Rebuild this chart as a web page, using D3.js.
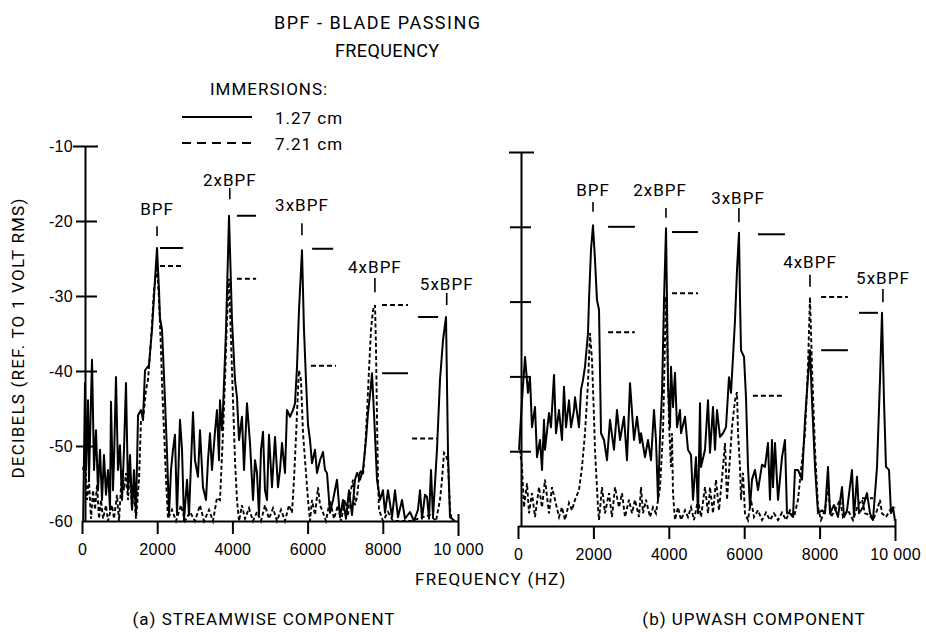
<!DOCTYPE html>
<html>
<head>
<meta charset="utf-8">
<script src="https://cdn.jsdelivr.net/npm/d3@7"></script>
<style>
    body { margin: 0; background: #fff; }
    svg { display: block; font-family: Roboto, "Noto Sans", sans-serif; fill: #000; }
    .axis path, .axis line { stroke: #000; stroke-width: 2; }
    .axis text { font-family: inherit; font-size: 16px; fill: #000; letter-spacing: 0.3px; }
    .solid { fill: none; stroke: #000; stroke-width: 2; stroke-linejoin: round; }
    .dashed { fill: none; stroke: #000; stroke-width: 1.9; stroke-dasharray: 4 2.5; }
    .mark { stroke: #000; stroke-width: 2; }
    .mark.dashed { stroke-dasharray: 5 3; }
    .legend.dashed { stroke-dasharray: 9 6; }
    .label { font-size: 17px; letter-spacing: 1px; }
</style>
</head>
<body>
<svg id="chart" width="926" height="632"></svg>
<script>

const xTicks = [0, 2000, 4000, 6000, 8000, 10000];
const xTickLabels = ["0", "2000", "4000", "6000", "8000", "10 000"];
const yTicks = [-10, -20, -30, -40, -50, -60];
const yTickLabels = ["-10", "-20", "-30", "-40", "-50", "-60"];

// spectra, [Hz, dB], floor at -60
const streamwiseSolid = [
    [30,-60],[80,-41.6],[106,-53.2],[160,-43.9],[186,-54.5],[266,-38.5],[320,-53.2],[372,-47.9],[425,-55.9],[479,-50.5],
    [532,-57.2],[585,-51.2],[638,-56.5],[691,-53.2],[745,-58.5],[771,-44.1],[824,-55.9],[851,-51.9],[904,-40.8],[957,-53.2],
    [1010,-49.9],[1064,-57.2],[1117,-50.5],[1170,-41.6],[1223,-55.9],[1277,-51.2],[1330,-58.5],[1383,-53.2],[1436,-59.1],[1490,-45.9],
    [1569,-45.2],[1622,-46.5],[1676,-39.9],[1782,-39.2],[1862,-34.5],[1941,-27.9],[1995,-23.6],[2048,-29.2],[2074,-32.9],[2128,-34.5],
    [2154,-37.5],[2207,-43.9],[2261,-50.9],[2314,-59.2],[2367,-53.2],[2420,-50.5],[2473,-48.5],[2527,-59.2],[2606,-46.5],[2660,-50.5],
    [2713,-59.9],[2793,-54.5],[2846,-59.2],[2952,-45.5],[3005,-51.9],[3085,-54.1],[3138,-47.9],[3218,-55.5],[3298,-57.2],[3351,-51.9],
    [3404,-48.3],[3457,-53.2],[3537,-48.1],[3590,-45.2],[3644,-51.9],[3670,-43.9],[3723,-47.9],[3750,-45.2],[3830,-34.5],[3910,-19.3],
    [3989,-33.2],[4069,-41.2],[4122,-43.5],[4176,-49.2],[4255,-46.1],[4309,-53.2],[4388,-44.3],[4468,-49.6],[4548,-57.2],[4601,-51.9],
    [4654,-53.6],[4707,-59.2],[4761,-50.5],[4814,-48.1],[4867,-55.9],[4920,-57.2],[4973,-48.5],[5053,-55.5],[5133,-48.8],[5213,-55.5],
    [5266,-53.2],[5319,-49.6],[5399,-53.6],[5452,-45.2],[5532,-46.1],[5612,-45.2],[5665,-44.3],[5718,-39.5],[5771,-31.9],[5851,-23.9],
    [5904,-34.5],[5957,-41.2],[6011,-47.2],[6064,-49.2],[6117,-52.3],[6197,-50.5],[6250,-53.6],[6330,-51.9],[6410,-50.8],[6463,-53.2],
    [6516,-53.6],[6596,-58.9],[6676,-57.2],[6782,-54.5],[6862,-59.5],[6941,-57.2],[7021,-59.7],[7101,-55.9],[7181,-59.2],[7261,-54.5],
    [7314,-53.6],[7394,-54.5],[7473,-53.2],[7553,-49.2],[7606,-45.6],[7660,-43.2],[7713,-40.3],[7766,-45.6],[7846,-54.5],[7926,-57.2],
    [8005,-55.9],[8059,-58.9],[8138,-55.9],[8245,-59.5],[8324,-55.9],[8404,-59.5],[8511,-57.2],[8590,-59.7],[8723,-58.8],[8830,-60],
    [8936,-58.5],[8989,-55.9],[9043,-59.7],[9122,-56.5],[9176,-56.8],[9229,-59.7],[9282,-53.2],[9335,-59.5],[9441,-50.5],[9521,-41.2],
    [9601,-35.9],[9681,-32.8],[9734,-50.9],[9787,-59.5],[9920,-60]
];

const streamwiseDashed = [
    [30,-53.2],[80,-51.2],[133,-57.2],[186,-54.5],[239,-59.7],[293,-55.9],[346,-58.5],[399,-55.2],[452,-59.7],[505,-57.2],
    [559,-59.7],[638,-57.9],[691,-60],[798,-57.9],[851,-59.7],[931,-56.5],[984,-60],[1064,-53.2],[1117,-55.9],[1170,-53.6],
    [1223,-57.2],[1277,-53.2],[1330,-58.5],[1383,-55.9],[1436,-59.7],[1516,-54.5],[1569,-46.5],[1622,-46.5],[1702,-42.5],[1755,-41.2],
    [1835,-35.9],[1915,-29.2],[1995,-26],[2048,-30.5],[2101,-37.2],[2128,-41.6],[2181,-47.9],[2234,-54.5],[2287,-59.7],[2394,-58.5],
    [2500,-60],[2633,-57.9],[2740,-60],[2872,-58.8],[3005,-60],[3138,-57.9],[3245,-60],[3378,-58.5],[3484,-60],[3590,-56.9],
    [3670,-57.2],[3750,-48.3],[3803,-41.2],[3856,-33.2],[3910,-27.7],[3963,-35.9],[4016,-43.9],[4069,-51.9],[4122,-57.2],[4176,-60],
    [4255,-57.9],[4335,-59.7],[4441,-58.3],[4548,-60],[4654,-58.8],[4761,-60],[4867,-57.9],[4973,-59.7],[5080,-58.3],[5186,-60],
    [5293,-58.5],[5399,-60],[5505,-57.9],[5585,-58.9],[5638,-54.5],[5691,-48.8],[5745,-42.5],[5771,-39.9],[5824,-41.2],[5878,-48.3],
    [5957,-53.6],[6011,-57.2],[6064,-60],[6117,-57.2],[6197,-59.2],[6277,-55.5],[6330,-57.9],[6383,-58.5],[6489,-60],[6596,-57.2],
    [6702,-59.7],[6809,-57.9],[6888,-60],[6995,-57.2],[7074,-59.2],[7128,-56.5],[7207,-54.5],[7261,-57.9],[7314,-56.8],[7394,-53.2],
    [7473,-53.9],[7527,-50.5],[7580,-45.6],[7633,-39.9],[7686,-34.5],[7739,-31.9],[7793,-31.2],[7819,-36.8],[7846,-46.5],[7872,-54.5],
    [7899,-58.5],[8005,-60],[8138,-58.8],[8271,-60],[8750,-60],[9255,-59.2],[9415,-60],[9521,-57.2],[9574,-54.5],[9628,-50.9],
    [9681,-51.2],[9734,-52.3],[9787,-58.5],[9840,-60]
];

const upwashSolid = [
    [27,-49.8],[106,-43.2],[186,-37.4],[265,-42.2],[318,-40.1],[371,-46.8],[451,-44.1],[504,-50.8],[584,-48.5],[637,-52.5],
    [690,-45.8],[716,-49.8],[822,-44.9],[875,-46.8],[955,-39.8],[1008,-47.6],[1088,-44.5],[1167,-48.5],[1220,-41.4],[1273,-46.8],
    [1353,-43.2],[1406,-46.8],[1485,-44.5],[1512,-42.8],[1618,-46.8],[1671,-41.8],[1724,-40.5],[1777,-38.7],[1857,-34.2],[1883,-29.8],
    [1936,-23.1],[1989,-19.8],[2042,-24.4],[2095,-29.8],[2149,-31.1],[2202,-47.6],[2281,-48.5],[2361,-51.2],[2440,-45.8],[2546,-49.8],
    [2626,-44.5],[2706,-48.5],[2812,-45.4],[2891,-51.2],[2971,-40.9],[3077,-48.5],[3156,-45.4],[3236,-48.9],[3263,-47.6],[3369,-50.8],
    [3448,-48.5],[3528,-51.2],[3607,-44.5],[3660,-48.5],[3714,-56.5],[3767,-48.1],[3820,-42.2],[3873,-29.8],[3926,-20.2],[3952,-29.8],
    [3979,-40.9],[4032,-46.8],[4058,-38.7],[4111,-44.1],[4164,-39.5],[4218,-46.8],[4297,-44.5],[4324,-47.6],[4430,-45.4],[4509,-49.8],
    [4589,-50.5],[4642,-56.5],[4721,-50.8],[4775,-58.3],[4828,-43.6],[4854,-52.1],[4960,-49.8],[5040,-43.2],[5093,-50.2],[5172,-44.1],
    [5225,-49.8],[5279,-44.5],[5358,-48.1],[5438,-47.6],[5517,-46.8],[5597,-40.1],[5650,-42.2],[5703,-37.4],[5756,-32.5],[5809,-25.8],
    [5862,-20.8],[5889,-29.8],[5915,-36.5],[5995,-37.4],[6048,-42.8],[6101,-52.1],[6154,-57.5],[6207,-53.8],[6286,-52.5],[6366,-55.2],
    [6472,-51.8],[6552,-52.1],[6631,-48.9],[6684,-56.5],[6737,-48.5],[6764,-54.8],[6817,-48.9],[6897,-56.5],[7003,-50.8],[7082,-48.5],
    [7135,-58.3],[7215,-58.3],[7294,-58.8],[7347,-52.5],[7427,-52.5],[7533,-53.8],[7613,-45.8],[7692,-40.1],[7745,-36.5],[7798,-43.2],
    [7878,-52.1],[7958,-58.3],[8064,-57.9],[8143,-58.3],[8223,-52.1],[8276,-58.3],[8382,-57.2],[8488,-58.8],[8594,-54.8],[8647,-58.8],
    [8727,-57.9],[8859,-52.5],[8912,-58.8],[8992,-53.4],[9045,-58.3],[9151,-57.5],[9257,-55.6],[9337,-58.3],[9416,-59.2],[9523,-52.1],
    [9602,-40.5],[9655,-31.5],[9708,-43.2],[9761,-52.1],[9841,-52.5],[9894,-58.3],[9947,-57.5],[10000,-59.3]
];

const upwashDashed = [
    [53,-49.8],[106,-52.1],[159,-57.5],[239,-54.3],[292,-58.3],[371,-55.6],[451,-58.8],[557,-54.8],[637,-57.5],[716,-53.8],
    [822,-58.3],[902,-54.8],[981,-56.5],[1088,-58.8],[1167,-57.5],[1247,-59.2],[1353,-56.9],[1432,-57.9],[1512,-56.5],[1618,-55.2],
    [1698,-52.1],[1777,-47.6],[1857,-40.9],[1910,-34.2],[1963,-37.8],[2016,-45.4],[2042,-49.8],[2122,-57.5],[2149,-59.2],[2228,-54.8],
    [2308,-58.3],[2414,-55.6],[2493,-58.8],[2573,-54.8],[2679,-57.5],[2759,-55.6],[2838,-58.8],[2944,-56.5],[3024,-58.3],[3103,-56.5],
    [3210,-58.8],[3263,-54.8],[3316,-58.3],[3395,-56.5],[3501,-58.8],[3581,-57.5],[3660,-58.3],[3767,-54.8],[3846,-47.6],[3899,-35.1],
    [3926,-29.3],[3952,-33.8],[4005,-46.2],[4058,-52.1],[4085,-47.6],[4111,-55.6],[4164,-59.2],[4244,-57.5],[4324,-59.2],[4430,-57.9],
    [4509,-58.8],[4589,-57.5],[4668,-59.2],[4775,-56.5],[4854,-58.8],[4960,-54.8],[5040,-58.3],[5093,-54.8],[5172,-58.3],[5252,-53.8],
    [5332,-57.9],[5438,-52.1],[5491,-48.9],[5544,-56.5],[5623,-50.8],[5676,-46.8],[5756,-43.2],[5809,-42.1],[5836,-47.6],[5889,-52.1],
    [5915,-56.5],[5968,-52.9],[6021,-58.3],[6101,-59.2],[6180,-56.5],[6260,-58.8],[6366,-57.9],[6472,-59.2],[6578,-58.2],[6684,-59.2],
    [6790,-58.3],[6897,-59.2],[7003,-58.2],[7109,-59.2],[7215,-57.9],[7321,-58.8],[7427,-56.5],[7507,-52.5],[7613,-47.6],[7692,-38.7],
    [7745,-29.4],[7798,-38.7],[7878,-49.8],[7958,-57.5],[8037,-59.2],[8143,-57.9],[8223,-54.8],[8302,-58.8],[8408,-57.9],[8541,-56.5],
    [8621,-58.8],[8753,-57.9],[8886,-59.2],[9019,-57.2],[9125,-56.5],[9204,-58.3],[9310,-58.5],[9416,-59.2],[9523,-57.9],[9602,-56.5],
    [9655,-58.3],[9761,-58.8],[9867,-57.9],[10000,-57.5]
];

// harmonic labels: text anchor and the little pointer tick, in Hz / dB
const streamwisePeaks = [
    {label: "BPF",   textHz: 1995, textDb: -19.2, tickHz: 1995, tickDb: [-20.7, -22.0]},
    {label: "2xBPF", textHz: 3930, textDb: -15.3, tickHz: 3930, tickDb: [-15.6, -17.1]},
    {label: "3xBPF", textHz: 5850, textDb: -18.7, tickHz: 5850, tickDb: [-20.3, -21.9]},
    {label: "4xBPF", textHz: 7790, textDb: -26.9, tickHz: 7790, tickDb: [-27.6, -29.5]},
    {label: "5xBPF", textHz: 9700, textDb: -29.2, tickHz: 9700, tickDb: [-29.6, -31.2]}
];

const upwashPeaks = [
    {label: "BPF",   textHz: 1990, textDb: -15.9, tickHz: 1990, tickDb: [-16.7, -18.0]},
    {label: "2xBPF", textHz: 3770, textDb: -15.9, tickHz: 3925, tickDb: [-17.5, -18.8]},
    {label: "3xBPF", textHz: 5835, textDb: -17.0, tickHz: 5860, tickDb: [-17.5, -19.4]},
    {label: "4xBPF", textHz: 7745, textDb: -25.5, tickHz: 7745, tickDb: [-26.4, -28.0]},
    {label: "5xBPF", textHz: 9680, textDb: -27.6, tickHz: 9680, tickDb: [-28.3, -30.1]}
];

// peak level bars: [from Hz, to Hz], level dB, line type
const streamwiseLevels = [
    {hz: [2075, 2690], db: -23.6, type: "solid"},
    {hz: [2075, 2690], db: -26.0, type: "dashed"},
    {hz: [4120, 4630], db: -19.3, type: "solid"},
    {hz: [4120, 4630], db: -27.7, type: "dashed"},
    {hz: [6120, 6680], db: -23.7, type: "solid"},
    {hz: [6090, 6755], db: -39.3, type: "dashed"},
    {hz: [7980, 8670], db: -31.2, type: "dashed"},
    {hz: [7980, 8670], db: -40.3, type: "solid"},
    {hz: [8940, 9470], db: -32.8, type: "solid"},
    {hz: [8780, 9470], db: -49.0, type: "dashed"}
];

const upwashLevels = [
    {hz: [2390, 3100], db: -20.0, type: "solid"},
    {hz: [2390, 3100], db: -34.1, type: "dashed"},
    {hz: [4085, 4775], db: -20.7, type: "solid"},
    {hz: [4085, 4775], db: -28.9, type: "dashed"},
    {hz: [6365, 7080], db: -21.0, type: "solid"},
    {hz: [6230, 7030], db: -42.6, type: "dashed"},
    {hz: [8040, 8750], db: -29.4, type: "dashed"},
    {hz: [8040, 8750], db: -36.5, type: "solid"},
    {hz: [9045, 9550], db: -31.5, type: "solid"},
    {hz: [9125, 9420], db: -56.3, type: "dashed"}
];

class SpectrumPanel
{
    constructor(svg, opts)
    {
        this.svg = svg;
        this.opts = opts;
        this.x = d3.scaleLinear().domain([0, 10000]).range(opts.xRange);
        this.y = d3.scaleLinear().domain([-60, -10]).range(opts.yRange);
    }

    draw()
    {
        const x = this.x, y = this.y, o = this.opts;
        const g = this.svg.append("g");
        const axisX = x(0) + 3;

        // frequency axis, ticks hang below
        const xAxis = g.append("g").attr("class", "axis")
            .attr("transform", `translate(0,${y(-60)})`)
            .call(d3.axisBottom(x).tickValues(xTicks)
                .tickFormat((d, i) => xTickLabels[i])
                .tickSize(13).tickSizeOuter(0).tickPadding(10));
        xAxis.selectAll(".tick text").attr("font-size", 16);
        xAxis.selectAll(".tick").filter(d => d === 10000).select("line").attr("y1", -7).attr("y2", 15);

        // dB axis, ticks straddle the line
        const yAxis = g.append("g").attr("class", "axis")
            .attr("transform", `translate(${axisX},0)`)
            .call(d3.axisLeft(y).tickValues(yTicks)
                .tickFormat((d, i) => o.showYLabels ? yTickLabels[i] : "")
                .tickSize(0).tickSizeOuter(0).tickPadding(12));
        yAxis.selectAll(".tick line")
            .attr("x1", d => d === -10 ? -12 : -o.tickLeft)
            .attr("x2", d => d === -10 ? 13 : o.tickRight);
        yAxis.selectAll(".tick").filter(d => d === -60).select("line").remove();
        yAxis.selectAll(".tick text").attr("font-size", 16);

        const line = d3.line().x(d => x(d[0])).y(d => y(d[1]));

        g.append("path").datum(o.dashed).attr("class", "dashed").attr("d", line);
        g.append("path").datum(o.solid).attr("class", "solid").attr("d", line);

        g.selectAll(".mark")
            .data(o.levels)
            .join("line")
            .attr("class", d => "mark " + (d.type === "dashed" ? "dashed" : ""))
            .attr("x1", d => x(d.hz[0]))
            .attr("x2", d => x(d.hz[1]))
            .attr("y1", d => y(d.db))
            .attr("y2", d => y(d.db));

        const peaks = g.selectAll(".peak").data(o.peaks).join("g").attr("class", "peak");
        peaks.append("text")
            .attr("class", "label")
            .attr("text-anchor", "middle")
            .attr("x", d => x(d.textHz))
            .attr("y", d => y(d.textDb))
            .text(d => d.label);
        peaks.append("line")
            .attr("stroke", "#000").attr("stroke-width", 1.6)
            .attr("x1", d => x(d.tickHz)).attr("x2", d => x(d.tickHz))
            .attr("y1", d => y(d.tickDb[0])).attr("y2", d => y(d.tickDb[1]));

        g.append("text")
            .attr("class", "label")
            .attr("text-anchor", "middle")
            .attr("x", o.caption[1])
            .attr("y", 625)
            .text(o.caption[0]);
    }
}

const svg = d3.select("#chart");

new SpectrumPanel(svg, {
    xRange: [82, 458], yRange: [521, 146], showYLabels: true, tickLeft: 9, tickRight: 12,
    solid: streamwiseSolid, dashed: streamwiseDashed,
    peaks: streamwisePeaks, levels: streamwiseLevels,
    caption: ["(a) STREAMWISE COMPONENT", 264]
}).draw();

new SpectrumPanel(svg, {
    xRange: [518, 895], yRange: [526, 152], showYLabels: false, tickLeft: 11, tickRight: 10,
    solid: upwashSolid, dashed: upwashDashed,
    peaks: upwashPeaks, levels: upwashLevels,
    caption: ["(b) UPWASH COMPONENT", 754]
}).draw();

// titles, legend
svg.append("text").attr("class", "label").style("font-size", "18px").style("letter-spacing", "1.5px")
    .attr("x", 274).attr("y", 29).text("BPF - BLADE PASSING");
svg.append("text").attr("class", "label").style("font-size", "18px").style("letter-spacing", "0.4px")
    .attr("x", 335).attr("y", 57).text("FREQUENCY");
svg.append("text").attr("class", "label").attr("x", 210).attr("y", 95).text("IMMERSIONS:");

svg.append("line").attr("class", "mark").attr("x1", 182).attr("x2", 252).attr("y1", 117).attr("y2", 117);
svg.append("line").attr("class", "mark legend dashed").attr("x1", 182).attr("x2", 252).attr("y1", 143).attr("y2", 143);
svg.append("text").attr("class", "label").attr("x", 275).attr("y", 124).text("1.27 cm");
svg.append("text").attr("class", "label").attr("x", 275).attr("y", 150).text("7.21 cm");

svg.append("text").attr("class", "label")
    .attr("text-anchor", "middle")
    .style("letter-spacing", "1.2px")
    .attr("transform", "translate(24,338) rotate(-90)")
    .text("DECIBELS (REF. TO 1 VOLT RMS)");

svg.append("text").attr("class", "label").style("letter-spacing", "1.3px")
    .attr("x", 415).attr("y", 585).text("FREQUENCY (HZ)");

</script>
</body>
</html>
